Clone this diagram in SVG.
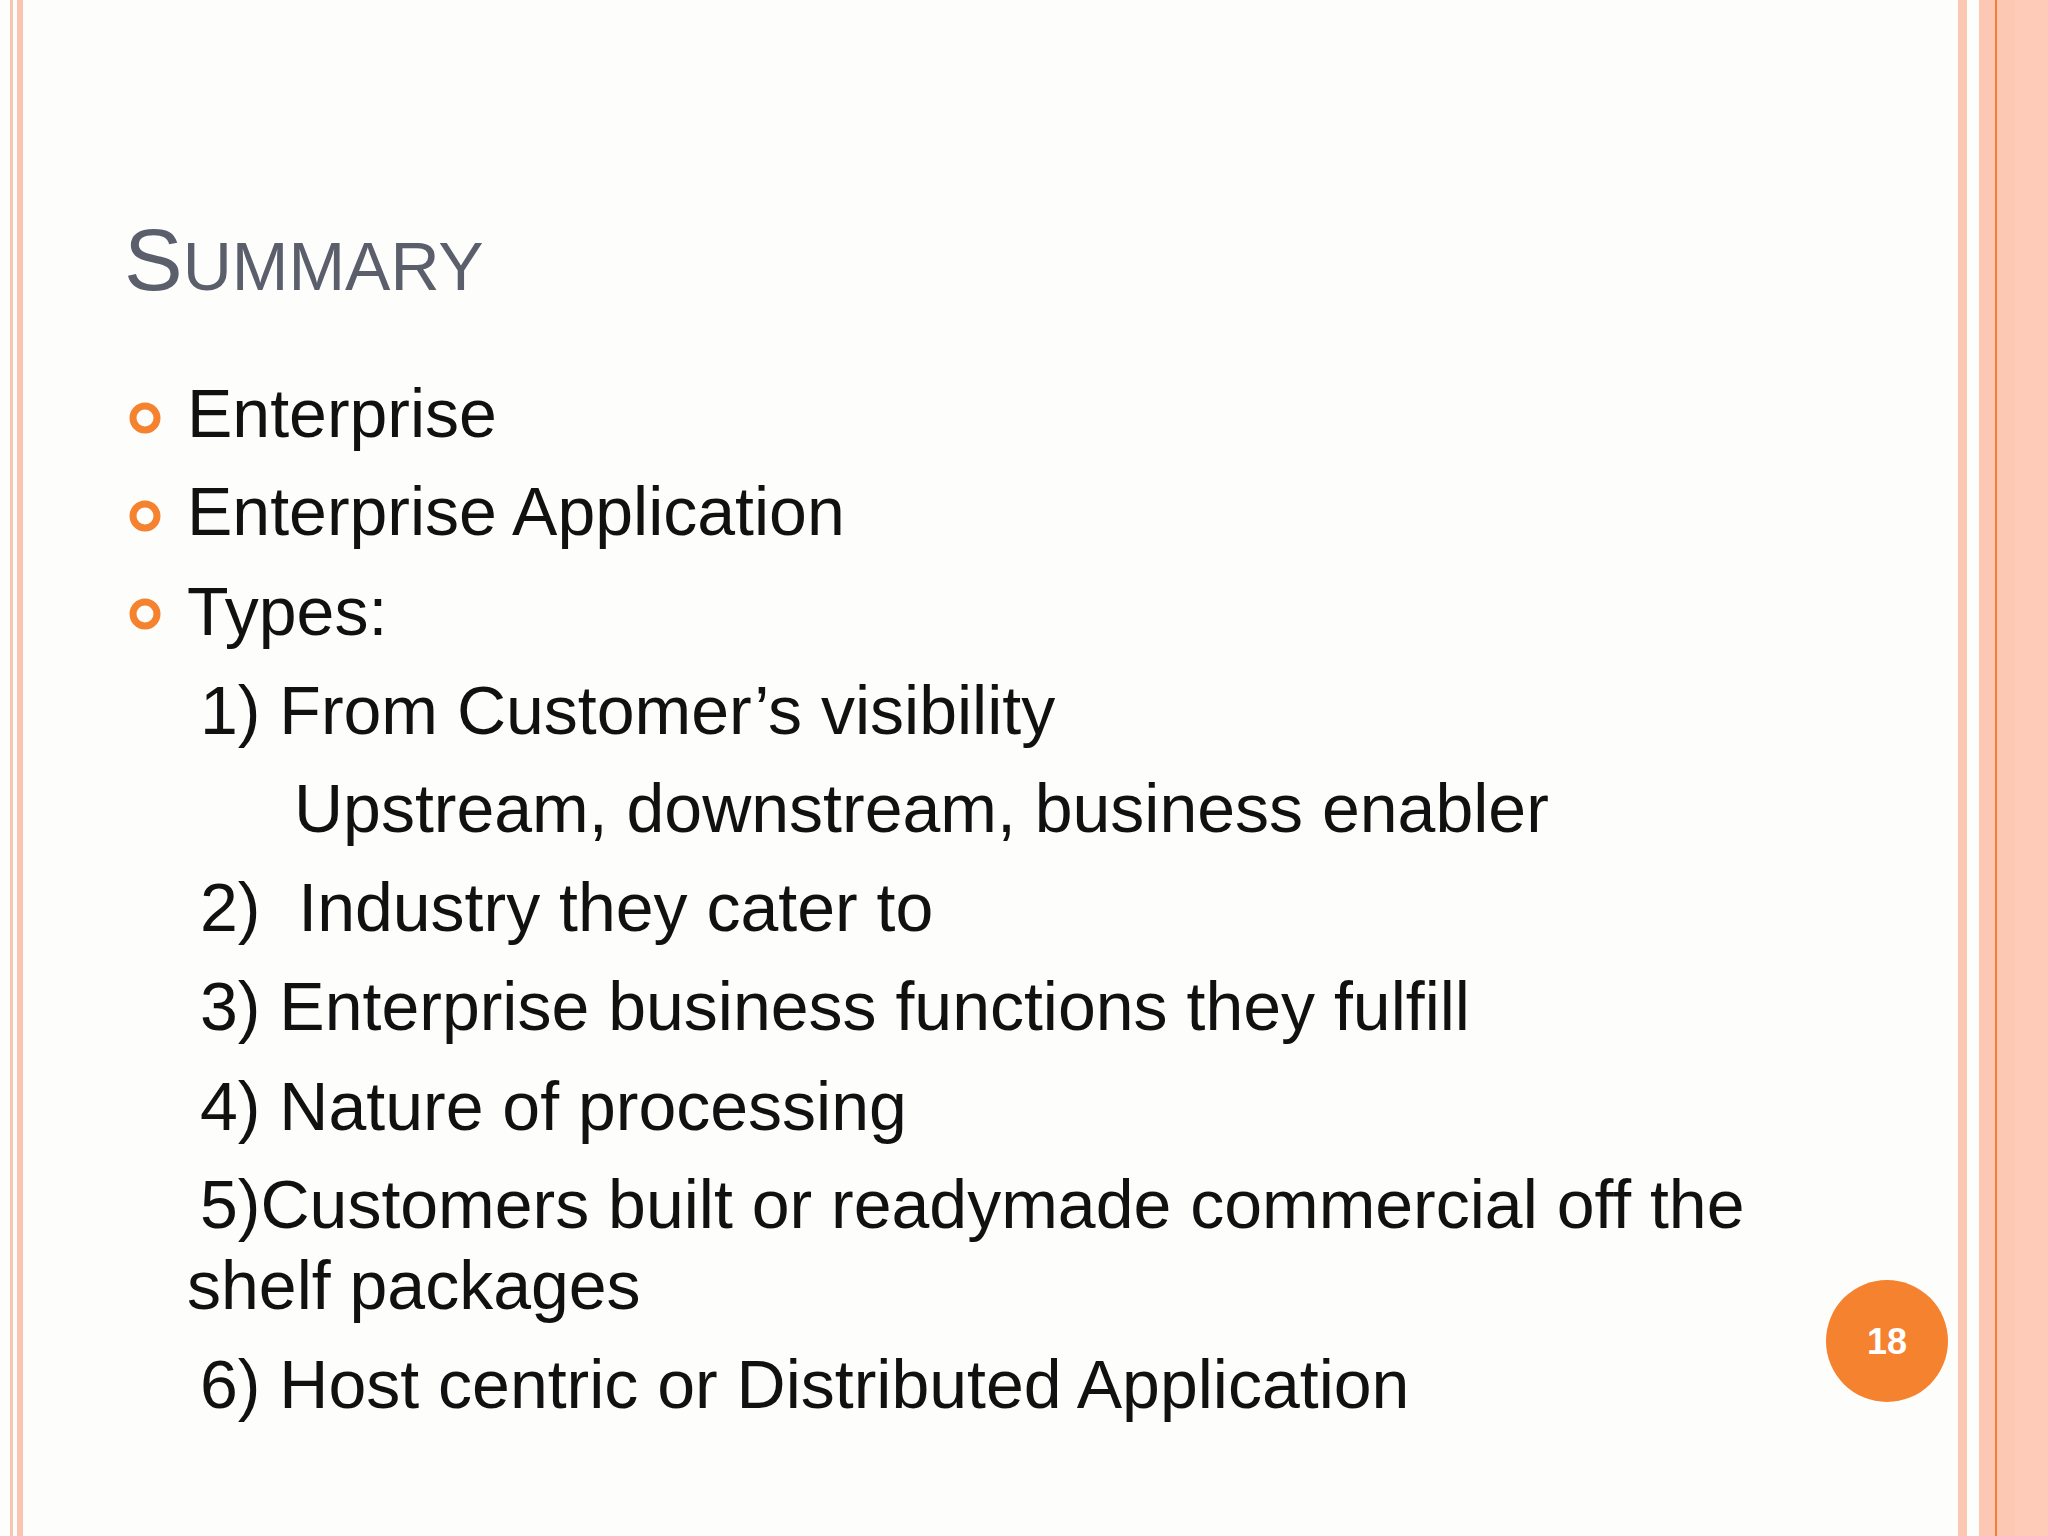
<svg xmlns="http://www.w3.org/2000/svg" width="2048" height="1536" viewBox="0 0 2048 1536">
<style>
.t{font-family:"Liberation Sans",Arial,sans-serif;font-size:68px;fill:#111}
.b{fill:none;stroke:#f5822f;stroke-width:7}
</style>
<rect width="2048" height="1536" fill="#fdfdfb"/>
<rect x="10" y="0" width="3" height="1536" fill="#f9c4b0"/>
<rect x="17" y="0" width="6" height="1536" fill="#f9c4b0"/>
<rect x="1958" y="0" width="9" height="1536" fill="#fbc6b2"/>
<rect x="1979" y="0" width="69" height="1536" fill="#fcc8b4"/>
<rect x="2015" y="0" width="33" height="1536" fill="#fdcbb8"/>
<rect x="1995" y="0" width="2" height="1536" fill="#f07f3a"/>
<text x="124" y="290" font-family="Liberation Sans,Arial,sans-serif" fill="#5a5f6b"><tspan font-size="88">S</tspan><tspan font-size="68">UMMARY</tspan></text>
<g id="bullets">
<circle class="b" cx="145" cy="418" r="12"/>
<circle class="b" cx="145" cy="516" r="12"/>
<circle class="b" cx="145" cy="614" r="12"/>
</g>
<text class="t" x="187" y="437">Enterprise</text>
<text class="t" x="187" y="535">Enterprise Application</text>
<text class="t" x="187" y="635">Types:</text>
<text class="t" x="200" y="734">1) From Customer’s visibility</text>
<text class="t" x="294" y="832">Upstream, downstream, business enabler</text>
<text class="t" x="200" y="931" xml:space="preserve">2)  Industry they cater to</text>
<text class="t" x="200" y="1030">3) Enterprise business functions they fulfill</text>
<text class="t" x="200" y="1130">4) Nature of processing</text>
<text class="t" x="200" y="1228">5)Customers built or readymade commercial off the</text>
<text class="t" x="187" y="1309">shelf packages</text>
<text class="t" x="200" y="1408">6) Host centric or Distributed Application</text>
<g id="page">
<circle cx="1887" cy="1341" r="61" fill="#f5822f"/>
<text x="1887" y="1354" text-anchor="middle" font-family="Liberation Sans,Arial,sans-serif" font-weight="bold" font-size="36" fill="#fff">18</text>
</g>
</svg>
